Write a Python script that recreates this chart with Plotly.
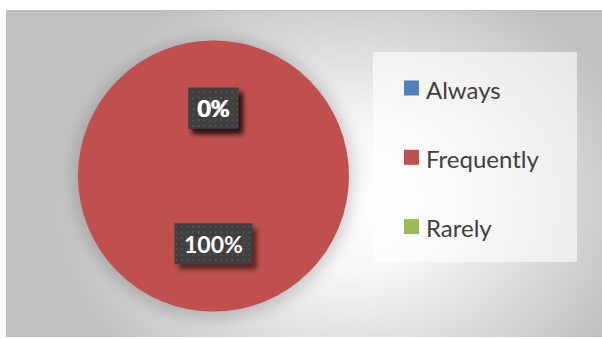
import base64
import math
import plotly.graph_objects as go

# ---- data ----
categories = ["Always", "Frequently", "Rarely"]
values = [0, 100, 0]
colors = ["#4F81BD", "#C0504D", "#9BBB59"]

W, H = 602, 339


def px(x):
    return x / W


def py(y):
    return 1 - y / H


# pie geometry (pixels)
cx, cy, R = 213.5, 176.0, 135.5

total = sum(values)
pcts = [round(100 * v / total) for v in values]
labels = [f"{p}%" for p in pcts]

# label anchor points: half radius along each slice's mid angle (clockwise from 12 o'clock)
label_pos = []
cum = 0.0
for v in values:
    mid = (cum + v / 2) / total * 2 * math.pi
    label_pos.append((cx + 0.5 * R * math.sin(mid), cy - 0.5 * R * math.cos(mid)))
    cum += v

# ---- background: radial gradient panel + soft halo behind the pie ----
bg_svg = f"""<svg xmlns='http://www.w3.org/2000/svg' width='{W}' height='{H}' viewBox='0 0 {W} {H}'>
<defs>
<radialGradient id='g' gradientUnits='userSpaceOnUse' cx='350' cy='200' r='300'
  gradientTransform='translate(350 200) scale(1 0.8) translate(-350 -200)'>
<stop offset='0' stop-color='#ffffff'/>
<stop offset='0.3' stop-color='#f7f7f7'/>
<stop offset='1' stop-color='#c0c0c0'/>
</radialGradient>
<filter id='b' x='-30%' y='-30%' width='160%' height='160%'><feGaussianBlur stdDeviation='7'/></filter>
</defs>
<rect x='0' y='0' width='{W}' height='{H}' fill='#ffffff'/>
<rect x='6' y='10' width='{W-6}' height='{H-12}' fill='url(#g)'/>
<line x1='6' y1='10.5' x2='{W}' y2='10.5' stroke='#bdbdbd' stroke-width='1'/>
<circle cx='{cx}' cy='{cy+2}' r='{R+6}' fill='#000000' fill-opacity='0.16' filter='url(#b)'/>
</svg>"""

# ---- label boxes: dark dotted fill with drop shadow ----
box_h = 41
fg_parts = []
for (lx, ly), t in zip(label_pos, labels):
    bw = 14 * len(t) + 22
    x0, y0 = lx - bw / 2, ly - box_h / 2
    fg_parts.append(
        f"<rect x='{x0+4}' y='{y0+5}' width='{bw}' height='{box_h}' fill='#000' fill-opacity='0.55' filter='url(#s)'/>"
    )
    fg_parts.append(f"<rect x='{x0}' y='{y0}' width='{bw}' height='{box_h}' fill='url(#dots)'/>")

fg_svg = f"""<svg xmlns='http://www.w3.org/2000/svg' width='{W}' height='{H}' viewBox='0 0 {W} {H}'>
<defs>
<pattern id='dots' patternUnits='userSpaceOnUse' width='5.6' height='5.6'>
<rect width='5.6' height='5.6' fill='#404040'/>
<rect x='2' y='2' width='1.6' height='1.6' fill='#595959'/>
</pattern>
<filter id='s' x='-30%' y='-30%' width='160%' height='160%'><feGaussianBlur stdDeviation='2.5'/></filter>
</defs>
{''.join(fg_parts)}
</svg>"""


def data_uri(svg):
    return "data:image/svg+xml;base64," + base64.b64encode(svg.encode()).decode()


fig = go.Figure()
fig.add_trace(
    go.Pie(
        labels=categories,
        values=values,
        marker=dict(colors=colors, line=dict(width=0)),
        sort=False,
        direction="clockwise",
        rotation=0,
        textinfo="none",
        showlegend=False,
        domain=dict(x=[px(cx - R), px(cx + R)], y=[py(cy + R), py(cy - R)]),
    )
)

images = [
    dict(source=data_uri(bg_svg), xref="paper", yref="paper", x=0, y=1,
         sizex=1, sizey=1, sizing="stretch", xanchor="left", yanchor="top", layer="below"),
    dict(source=data_uri(fg_svg), xref="paper", yref="paper", x=0, y=1,
         sizex=1, sizey=1, sizing="stretch", xanchor="left", yanchor="top", layer="above"),
]

annotations = []
for (lx, ly), t in zip(label_pos, labels):
    annotations.append(dict(
        x=px(lx), y=py(ly), xref="paper", yref="paper", text=f"<b>{t}</b>",
        showarrow=False, xanchor="center", yanchor="middle",
        font=dict(family="Lato", size=23, color="#ffffff"),
    ))

# ---- legend panel ----
shapes = [dict(type="rect", xref="paper", yref="paper",
               x0=px(373), x1=px(577), y0=py(262), y1=py(52),
               fillcolor="rgba(255,255,255,0.6)", line=dict(width=0), layer="below")]
leg_y0, leg_step = 88.0, 69.3
for i, (cat, col) in enumerate(zip(categories, colors)):
    yc = leg_y0 + i * leg_step
    shapes.append(dict(type="rect", xref="paper", yref="paper",
                       x0=px(404), x1=px(419), y0=py(yc + 7.5), y1=py(yc - 7.5),
                       fillcolor=col, line=dict(width=0), layer="above"))
    annotations.append(dict(
        x=px(424), y=py(yc + 1), xref="paper", yref="paper", text=cat,
        showarrow=False, xanchor="left", yanchor="middle",
        font=dict(family="Lato", size=24, color="#404040"),
    ))

fig.update_layout(
    width=W, height=H,
    margin=dict(l=0, r=0, t=0, b=0),
    paper_bgcolor="#ffffff",
    plot_bgcolor="rgba(0,0,0,0)",
    images=images,
    shapes=shapes,
    annotations=annotations,
    showlegend=False,
)

fig.write_html("out.html")
